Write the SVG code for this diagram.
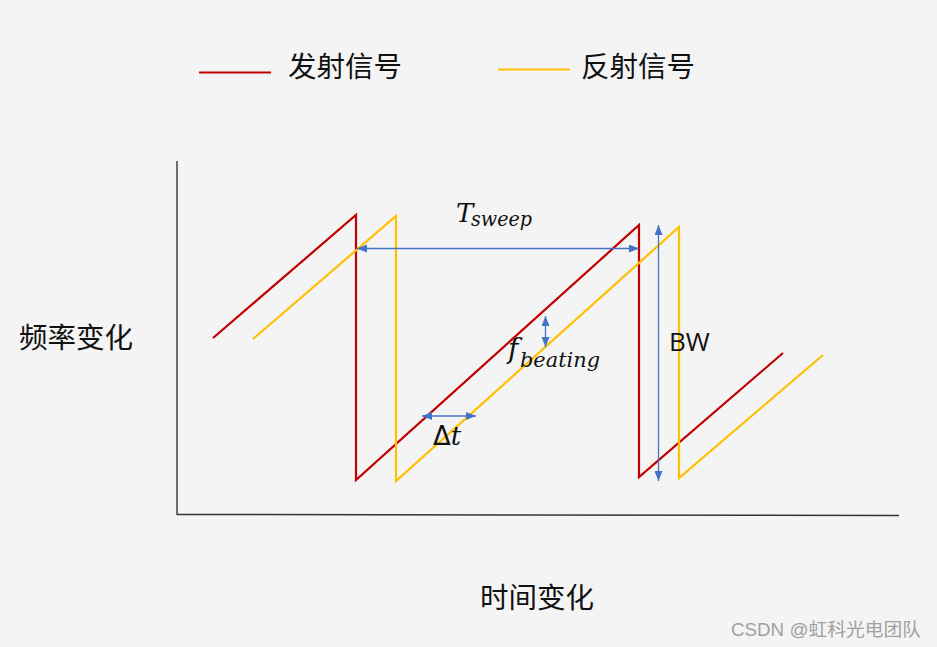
<svg xmlns="http://www.w3.org/2000/svg" width="937" height="647" viewBox="0 0 937 647">
<defs>
<marker id="ah" viewBox="0 0 10 8" markerUnits="userSpaceOnUse" markerWidth="10" markerHeight="8" refX="10" refY="4" orient="auto-start-reverse">
<path d="M0,0 L10,4 L0,8 z" fill="#4472C4"/>
</marker>
<style>
.tx{font-family:"Noto Sans CJK SC","Liberation Sans",sans-serif;font-size:28.5px;fill:#111}
.red{fill:none;stroke:#C00000;stroke-width:2.2;stroke-linejoin:miter}
.yel{fill:none;stroke:#FFC000;stroke-width:2.2;stroke-linejoin:miter}
.blue{fill:none;stroke:#4472C4;stroke-width:1.3;marker-start:url(#ah);marker-end:url(#ah)}
.math{font-family:"DejaVu Serif","Liberation Serif",serif;font-style:italic;fill:#111}
</style>
</defs>
<rect width="937" height="647" fill="#F4F4F4"/>
<g id="legend">
<line x1="199" y1="72.5" x2="271" y2="72.5" stroke="#C00000" stroke-width="2"/>
<text class="tx" x="288" y="77">发射信号</text>
<line x1="498" y1="69.5" x2="570" y2="69.5" stroke="#FFC000" stroke-width="2"/>
<text class="tx" x="581" y="77">反射信号</text>
</g>
<g id="axes">
<line x1="177" y1="161" x2="177" y2="515" stroke="#111" stroke-width="1.2"/>
<line x1="177" y1="514.5" x2="899" y2="515.5" stroke="#333" stroke-width="1.5"/>
<text class="tx" x="19" y="348">频率变化</text>
<text class="tx" x="480" y="608">时间变化</text>
</g>
<g id="transmitted">
<polyline class="red" points="213,338 356,215 356,480 639,225 639,477 783,353"/>
</g>
<g id="reflected">
<polyline class="yel" points="253,339 396,216 396,481 679,227 679,478 823,355"/>
</g>
<g id="connectors">
<line class="blue" x1="357" y1="248.5" x2="639" y2="248.5"/>
<line class="blue" x1="658.5" y1="225" x2="658.5" y2="481"/>
<line class="blue" x1="545.5" y1="316" x2="545.5" y2="347"/>
<line class="blue" x1="422" y1="416" x2="476" y2="416"/>
</g>
<g id="labels">
<text class="math" x="456" y="222" font-size="26">T<tspan x="471" font-size="20" dy="4" textLength="61" lengthAdjust="spacingAndGlyphs">sweep</tspan></text>
<text class="math" x="508" y="358" font-size="28">f<tspan x="520" font-size="20" dy="9" textLength="80" lengthAdjust="spacingAndGlyphs">beating</tspan></text>
<text x="433" y="445" font-size="26" fill="#111" font-family="DejaVu Sans,sans-serif">Δ<tspan font-style="italic" font-family="DejaVu Serif,serif">t</tspan></text>
<text x="669" y="351" font-size="26" fill="#111" font-family="Open Sans,Noto Sans,sans-serif">BW</text>
</g>
<text x="731" y="636" font-size="18" fill="#A0A0A0" font-family="Liberation Sans,Noto Sans CJK SC,sans-serif" textLength="190" lengthAdjust="spacingAndGlyphs">CSDN @虹科光电团队</text>
</svg>
